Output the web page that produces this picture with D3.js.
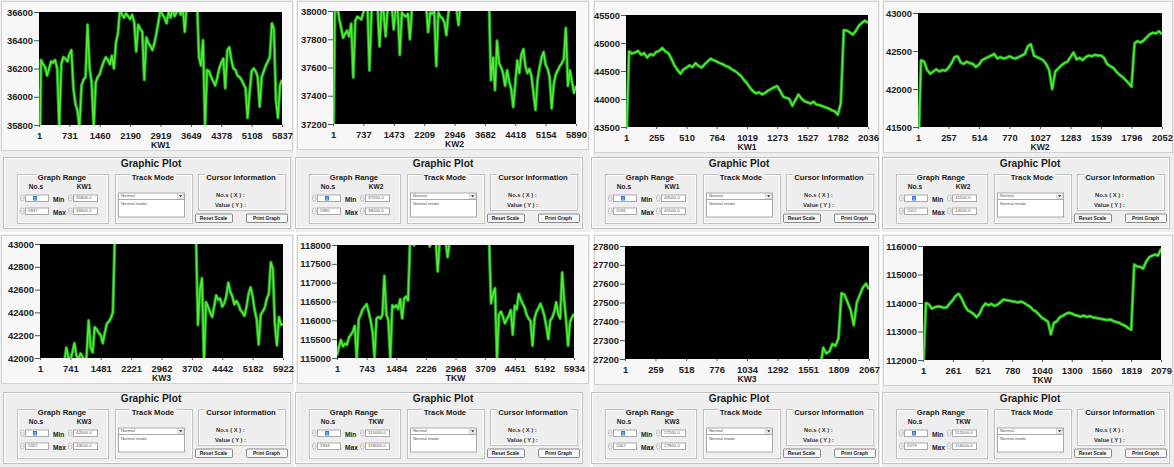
<!DOCTYPE html>
<html>
<head>
<meta charset="utf-8">
<script src="https://cdn.jsdelivr.net/npm/d3@7"></script>
<style>
body { margin: 0; background: #fff; }
svg { display: block; }
text { font-family: "Liberation Sans", Arial, sans-serif; }
</style>
</head>
<body>
<svg id="chart" width="1174" height="467"></svg>
<script>
// values (one sample every ~2-3 px of the plot)

// top row, left: KW1, 121 samples over 1..5837
var kw1TopValues = [35000,36260,36230,36210,36150,36200,36250,36240,36260,36200,
  35780,36230,36280,36270,36250,36300,36330,36060,35950,35900,
  35780,36080,36120,36140,36510,36200,36100,35780,36100,36140,
  36160,36210,36250,36280,36260,36230,36290,36200,36380,36450,
  36620,36580,36560,36590,36570,36550,36580,36530,36320,36510,
  36480,36460,36120,36420,36380,36360,36330,36380,36450,36530,
  36620,36580,36560,36520,36600,36560,36620,36570,36600,36620,
  36580,36640,36460,36650,36680,36660,36700,36680,36700,36280,
  36220,36400,35790,36190,36180,36140,36110,36080,36130,36200,
  36240,36270,36060,36330,36350,36260,36200,36190,36150,36140,
  36120,36090,36060,35850,36030,36180,36200,36180,36140,35930,
  36140,36180,36220,36250,36280,36520,36480,35980,35850,36080,
  36120];
var kw1TopTicksY = [35800, 36000, 36200, 36400, 36600];
var kw1TopTicksX = [1, 731, 1460, 2190, 2919, 3649, 4378, 5108, 5837];

// top row, second: KW2, 121 samples over 1..5890
var kw2TopValues = [36800,38100,38050,37950,37880,37810,37840,37860,37820,37910,
  37530,37930,37960,37950,37940,37990,38020,38050,37580,37990,
  38050,38060,38030,37750,38030,37990,37820,38020,38060,38040,
  37870,38030,38000,37690,37990,37970,37960,37980,37800,38020,
  38060,38080,38060,38090,38070,38060,38040,37850,37990,37980,
  38000,37610,37990,37960,37950,37920,37830,37990,38030,38060,
  38030,38010,37900,38060,38090,38100,38100,38120,38100,38110,
  38120,38100,38110,38120,38100,38110,38120,38100,37510,37670,
  37440,37790,37630,37600,37560,37470,37580,37500,37450,37320,
  37480,37650,37560,37690,37730,37610,37560,37590,37540,37420,
  37300,37510,37600,37670,37710,37620,37590,37530,37310,37480,
  37550,37580,37610,37630,37660,37880,37470,37580,37500,37420,
  37470];
var kw2TopTicksY = [37200, 37400, 37600, 37800, 38000];
var kw2TopTicksX = [1, 737, 1473, 2209, 2946, 3682, 4418, 5154, 5890];

// top row, third: KW1, 81 samples over 1..2036
var kw1RightValues = [43000,44850,44810,44830,44860,44790,44820,44740,44800,44780,
  44840,44860,44910,44850,44820,44720,44600,44520,44450,44530,
  44560,44600,44570,44640,44590,44560,44620,44670,44720,44690,
  44670,44640,44620,44590,44570,44530,44500,44460,44410,44340,
  44280,44200,44140,44100,44120,44080,44110,44150,44180,44210,
  44230,44140,44040,44020,44000,43880,43980,44080,44010,43960,
  43940,43920,43950,43900,43890,43870,43850,43830,43800,43780,
  43720,43920,45230,45220,45190,45150,45220,45310,45360,45400,
  45360];
var kw1RightTicksY = [43500, 44000, 44500, 45000, 45500];
var kw1RightTicksX = [1, 255, 510, 764, 1019, 1273, 1527, 1782, 2036];

// top row, fourth: KW2, 81 samples over 1..2052
var kw2RightValues = [41000,42380,42360,42250,42200,42230,42260,42230,42250,42240,
  42280,42340,42420,42430,42350,42330,42360,42340,42330,42290,
  42320,42380,42400,42420,42440,42460,42400,42420,42400,42410,
  42430,42410,42400,42420,42440,42460,42560,42590,42440,42420,
  42400,42380,42330,42250,42000,42230,42270,42310,42340,42360,
  42420,42480,42390,42410,42380,42420,42440,42430,42450,42440,
  42440,42410,42330,42300,42280,42230,42190,42160,42120,42080,
  42030,42600,42630,42610,42640,42680,42720,42740,42730,42760,
  42720];
var kw2RightTicksY = [41500, 42000, 42500, 43000];
var kw2RightTicksX = [1, 257, 514, 770, 1027, 1283, 1539, 1796, 2052];

// bottom row, left: KW3, 121 samples over 1..5922
var kw3LeftValues = [41800,41820,41850,41830,41870,41880,41850,41890,41900,41920,
  41880,41930,41960,42090,42010,41980,42050,42130,42020,41990,
  42040,42010,41980,42010,42330,42090,42050,42270,42250,42220,
  42200,42130,42220,42300,42320,42350,42400,43100,43150,43120,
  43180,43200,43150,43220,43250,43200,43180,43230,43260,43210,
  43190,43240,43270,43220,43200,43250,43230,43190,43210,43260,
  43240,43200,43180,43230,43250,43210,43190,43170,43220,43200,
  43180,43150,43190,43160,43140,43170,43120,43100,42290,42600,
  42700,41950,42490,42450,42400,42360,42450,42550,42510,42520,
  42450,42480,42540,42660,42580,42540,42470,42500,42470,42420,
  42400,42370,42450,42560,42620,42540,42420,42340,42120,42380,
  42410,42440,42520,42560,42840,42780,42290,42110,42360,42290,
  42300];
var kw3LeftTicksY = [42000, 42200, 42400, 42600, 42800, 43000];
var kw3LeftTicksX = [1, 741, 1481, 2221, 2962, 3702, 4442, 5182, 5922];

// bottom row, second: TKW, 121 samples over 1..5934
var tkwLeftValues = [115070,115300,115480,115310,115380,115350,115540,115620,115700,115850,
  114950,116020,116150,116290,116360,116430,116230,116000,115700,115020,
  116050,116090,116050,116150,117180,116150,116010,114980,116400,116340,
  116400,116300,116560,116050,116580,116630,116530,118100,118150,117990,
  118100,118200,118150,118250,118200,118150,118100,117960,118100,118200,
  118150,117300,118100,118200,118150,118100,117680,118100,118200,118250,
  118200,118300,118250,118200,118300,118250,118200,118300,118250,118200,
  118250,118300,118200,118250,118300,118200,118250,118200,116450,116700,
  116850,114950,116150,116230,116100,115920,116030,116130,116270,115620,
  116390,116290,116700,116560,116440,116340,116150,116050,115980,115330,
  116040,116230,116320,116440,116300,116120,115830,115500,116000,116080,
  116230,116480,116170,116050,117270,116560,116000,115330,115960,116080,
  116170];
var tkwLeftTicksY = [115000, 115500, 116000, 116500, 117000, 117500, 118000];
var tkwLeftTicksX = [1, 743, 1484, 2226, 2968, 3709, 4451, 5192, 5934];

// bottom row, third: KW3, visible only from sample step 64 of 80 (over 1..2067)
var kw3RightFirst = 64;
var kw3RightValues = [27150,27260,27230,27240,27280,27270,27310,27550,27540,27500,
  27460,27380,27500,27540,27580,27600,27570];
var kw3RightTicksY = [27200, 27300, 27400, 27500, 27600, 27700, 27800];
var kw3RightTicksX = [1, 259, 518, 776, 1034, 1292, 1551, 1809, 2067];

// bottom row, fourth: TKW, 81 samples over 1..2079
var tkwRightValues = [111500,114000,113950,113800,113850,113880,113870,113830,113850,113980,
  114100,114250,114320,114150,113920,113750,113690,113620,113500,113620,
  113850,113980,113920,113970,113900,113940,114020,114120,114100,114080,
  114060,114040,114020,114050,114000,113930,113870,113760,113700,113590,
  113480,113420,113350,112900,113300,113360,113500,113550,113620,113660,
  113630,113580,113550,113520,113560,113510,113540,113500,113480,113460,
  113440,113420,113400,113420,113370,113330,113300,113240,113200,113120,
  113060,115350,115280,115270,115210,115450,115600,115660,115700,115660,
  115900];
var tkwRightTicksY = [112000, 113000, 114000, 115000, 116000];
var tkwRightTicksX = [1, 261, 521, 780, 1040, 1300, 1560, 1819, 2079];

var panels = [
  {label: "KW1", count: 5837, yDomain: [35800, 36600], yTicks: kw1TopTicksY, xTicks: kw1TopTicksX, values: kw1TopValues, first: 0, steps: 120},
  {label: "KW2", count: 5890, yDomain: [37200, 38000], yTicks: kw2TopTicksY, xTicks: kw2TopTicksX, values: kw2TopValues, first: 0, steps: 120},
  {label: "KW1", count: 2036, yDomain: [43500, 45500], yTicks: kw1RightTicksY, xTicks: kw1RightTicksX, values: kw1RightValues, first: 0, steps: 80},
  {label: "KW2", count: 2052, yDomain: [41500, 43000], yTicks: kw2RightTicksY, xTicks: kw2RightTicksX, values: kw2RightValues, first: 0, steps: 80},
  {label: "KW3", count: 5922, yDomain: [42000, 43000], yTicks: kw3LeftTicksY, xTicks: kw3LeftTicksX, values: kw3LeftValues, first: 0, steps: 120},
  {label: "TKW", count: 5934, yDomain: [115000, 118000], yTicks: tkwLeftTicksY, xTicks: tkwLeftTicksX, values: tkwLeftValues, first: 0, steps: 120},
  {label: "KW3", count: 2067, yDomain: [27200, 27800], yTicks: kw3RightTicksY, xTicks: kw3RightTicksX, values: kw3RightValues, first: kw3RightFirst, steps: 80},
  {label: "TKW", count: 2079, yDomain: [112000, 116000], yTicks: tkwRightTicksY, xTicks: tkwRightTicksX, values: tkwRightValues, first: 0, steps: 80}
];

// where each screenshot sits on the page
var frames = [
  {bg: [0, 0, 294, 232],   plot: [39, 12, 282, 125],   ui: [0, 0]},
  {bg: [296, 0, 294, 232], plot: [333, 11, 576, 124],  ui: [292, 0]},
  {bg: [593, 0, 287, 232], plot: [626, 15, 868, 127],  ui: [588, 0]},
  {bg: [882, 0, 292, 232], plot: [918, 13, 1162, 127], ui: [879, 0]},
  {bg: [0, 234, 294, 233],   plot: [40, 244, 283, 358],   ui: [0, 235]},
  {bg: [296, 234, 294, 233], plot: [337, 245, 574, 358],  ui: [292, 235]},
  {bg: [593, 234, 287, 233], plot: [625, 246, 869, 359],  ui: [588, 235]},
  {bg: [882, 234, 292, 233], plot: [923, 246, 1161, 360], ui: [879, 235]}
];

var svg = d3.select("#chart");
var defs = svg.append("defs");

function etched(c, x, y, w, h) {
  c.append("rect").attr("x", x + 0.5).attr("y", y + 0.5).attr("width", w).attr("height", h)
    .attr("fill", "none").attr("stroke", "#c0c0c0");
  c.append("rect").attr("x", x + 1.5).attr("y", y + 1.5).attr("width", w - 2).attr("height", h - 2)
    .attr("fill", "none").attr("stroke", "#fdfdfd");
}

function groupBox(c, x, y, w, h, title, cx) {
  etched(c, x, y, w, h);
  var t = c.append("text").attr("x", cx).attr("y", y + 5.5).attr("text-anchor", "middle")
    .attr("font-size", 7.7).attr("font-weight", "bold").attr("fill", "#1c1c1c").text(title);
  var bb = t.node().getBBox();
  c.insert("rect", function () { return t.node(); })
    .attr("x", bb.x - 1.5).attr("y", y - 1).attr("width", bb.width + 3).attr("height", 4)
    .attr("fill", "#eeeeee");
}

function inputBox(c, x, y, w, h, txt) {
  c.append("rect").attr("x", x + 0.5).attr("y", y + 0.5).attr("width", w).attr("height", h)
    .attr("fill", "#fff").attr("stroke", "#a9a9a9");
  if (txt) {
    c.append("text").attr("x", x + 3).attr("y", y + h - 1.6).attr("font-size", 4.3)
      .attr("fill", "#555").text(txt);
  }
}

function spinner(c, x, y) {
  c.append("rect").attr("x", x + 0.5).attr("y", y + 0.5).attr("width", 3.5).attr("height", 6).attr("rx", 1.5)
    .attr("fill", "#f2f2f2").attr("stroke", "#b0b0b0").attr("stroke-width", 0.7);
  c.append("line").attr("x1", x + 0.8).attr("x2", x + 3.7).attr("y1", y + 3.5).attr("y2", y + 3.5)
    .attr("stroke", "#b0b0b0").attr("stroke-width", 0.5);
}

function button(c, x, y, w, h, txt) {
  c.append("rect").attr("x", x + 0.5).attr("y", y + 0.5).attr("width", w).attr("height", h).attr("rx", 1)
    .attr("fill", "#f6f6f6").attr("stroke", "#707070").attr("stroke-width", 0.8);
  c.append("text").attr("x", x + w / 2).attr("y", y + h / 2 + 1.8).attr("text-anchor", "middle")
    .attr("font-size", 4.9).attr("font-weight", "bold").attr("fill", "#222").text(txt);
}

function drawControls(c, p) {
  etched(c, 3, 157, 287, 71);
  c.append("text").attr("x", 151).attr("y", 167).attr("text-anchor", "middle")
    .attr("font-size", 10.2).attr("font-weight", "bold").attr("fill", "#1c1c1c").text("Graphic Plot");

  // Graph Range
  groupBox(c, 17, 174, 91, 49, "Graph Range", 62);
  c.append("text").attr("x", 36).attr("y", 188.5).attr("text-anchor", "middle")
    .attr("font-size", 6.6).attr("font-weight", "bold").attr("fill", "#222").text("No.s");
  c.append("text").attr("x", 84).attr("y", 188.5).attr("text-anchor", "middle")
    .attr("font-size", 6.6).attr("font-weight", "bold").attr("fill", "#222").text(p.label);
  spinner(c, 20, 194.5);
  inputBox(c, 25, 194.5, 23, 6.5, null);
  c.append("rect").attr("x", 33).attr("y", 196).attr("width", 4).attr("height", 4.5).attr("fill", "#3a78d8");
  c.append("text").attr("x", 35).attr("y", 199.9).attr("text-anchor", "middle")
    .attr("font-size", 4.3).attr("fill", "#fff").text("1");
  c.append("text").attr("x", 53).attr("y", 202).attr("font-size", 6.6).attr("font-weight", "bold")
    .attr("fill", "#222").text("Min");
  spinner(c, 68, 194.5);
  inputBox(c, 73, 194.5, 24, 6.5, p.yDomain[0].toFixed(1));

  spinner(c, 20, 207.5);
  inputBox(c, 25, 207.5, 23, 6.5, String(p.count));
  c.append("text").attr("x", 53).attr("y", 215).attr("font-size", 6.6).attr("font-weight", "bold")
    .attr("fill", "#222").text("Max");
  spinner(c, 68, 207.5);
  inputBox(c, 73, 207.5, 24, 6.5, p.yDomain[1].toFixed(1));

  // Track Mode
  groupBox(c, 115, 174, 77, 49, "Track Mode", 153);
  inputBox(c, 118, 192.5, 66, 6.5, "Normal");
  c.append("rect").attr("x", 177.5).attr("y", 193.5).attr("width", 6).attr("height", 5)
    .attr("fill", "#efefef").attr("stroke", "#bbb").attr("stroke-width", 0.5);
  c.append("path").attr("d", "M179,195.3 L182.4,195.3 L180.7,197.3 Z").attr("fill", "#333");
  c.append("rect").attr("x", 118.5).attr("y", 199.5).attr("width", 66).attr("height", 17.5)
    .attr("fill", "#fff").attr("stroke", "#a9a9a9");
  c.append("text").attr("x", 121).attr("y", 204.5).attr("font-size", 4.3).attr("fill", "#555").text("Normal mode");

  // Cursor Information
  groupBox(c, 198, 174, 87, 36, "Cursor Information", 241);
  c.append("text").attr("x", 216).attr("y", 197).attr("font-size", 5.8).attr("font-weight", "bold")
    .attr("fill", "#333").text("No.s ( X ) :");
  c.append("text").attr("x", 215).attr("y", 207).attr("font-size", 5.8).attr("font-weight", "bold")
    .attr("fill", "#333").text("Value ( Y ) :");

  button(c, 195, 213.5, 37, 8.5, "Reset Scale");
  button(c, 246, 213.5, 41, 8.5, "Print Graph");
}

panels.forEach(function (p, k) {
  var f = frames[k];
  var pl = f.plot[0], pt = f.plot[1], pr = f.plot[2], pb = f.plot[3];
  var g = svg.append("g");

  // window backgrounds
  g.append("rect").attr("x", f.bg[0]).attr("y", f.bg[1]).attr("width", f.bg[2]).attr("height", f.bg[3])
    .attr("fill", "#eeeeee");
  g.append("rect").attr("x", f.bg[0] + 1.5).attr("y", f.bg[1] + 1.5).attr("width", f.bg[2] - 3)
    .attr("height", pb + 24 - f.bg[1]).attr("fill", "#f7f7f7").attr("stroke", "#d2d2d2");

  var x = d3.scaleLinear().domain([1, p.count]).range([pl, pr]);
  var y = d3.scaleLinear().domain(p.yDomain).range([pb, pt]);

  g.append("rect").attr("x", pl).attr("y", pt).attr("width", pr - pl).attr("height", pb - pt)
    .attr("fill", "#000");

  var clipId = "plotclip" + k;
  defs.append("clipPath").attr("id", clipId).append("rect")
    .attr("x", pl).attr("y", pt).attr("width", pr - pl).attr("height", pb - pt);

  var line = d3.line()
    .x(function (d, i) { return x(1 + (p.first + i) * (p.count - 1) / p.steps); })
    .y(function (d) { return y(d); });

  var lines = g.append("g").attr("clip-path", "url(#" + clipId + ")");
  lines.append("path").datum(p.values).attr("d", line)
    .attr("fill", "none").attr("stroke", "#1d961d").attr("stroke-width", 3.3).attr("stroke-linejoin", "round");
  lines.append("path").datum(p.values).attr("d", line)
    .attr("fill", "none").attr("stroke", "#52ee38").attr("stroke-width", 1.5).attr("stroke-linejoin", "round");

  var ya = g.append("g").attr("transform", "translate(" + pl + ",0)")
    .call(d3.axisLeft(y).tickValues(p.yTicks).tickSize(5).tickPadding(1).tickFormat(d3.format("d")));
  ya.select(".domain").remove();
  ya.selectAll(".tick line").attr("stroke", "#555");
  ya.selectAll("text").attr("font-size", 9.4).attr("font-weight", "bold").attr("fill", "#222")
    .attr("font-family", "Liberation Sans, Arial, sans-serif");

  var xa = g.append("g").attr("transform", "translate(0," + pb + ")")
    .call(d3.axisBottom(x).tickValues(p.xTicks).tickSize(2).tickPadding(5).tickFormat(d3.format("d")));
  xa.select(".domain").remove();
  xa.selectAll(".tick line").attr("stroke", "#555");
  xa.selectAll("text").attr("font-size", 9.4).attr("font-weight", "bold").attr("fill", "#222")
    .attr("font-family", "Liberation Sans, Arial, sans-serif");

  g.append("text").attr("x", (pl + pr) / 2).attr("y", pb + 22.5).attr("text-anchor", "middle")
    .attr("font-size", 8.6).attr("font-weight", "bold").attr("fill", "#222").text(p.label);

  var c = g.append("g").attr("transform", "translate(" + f.ui[0] + "," + f.ui[1] + ")");
  drawControls(c, p);
});
</script>
</body>
</html>
